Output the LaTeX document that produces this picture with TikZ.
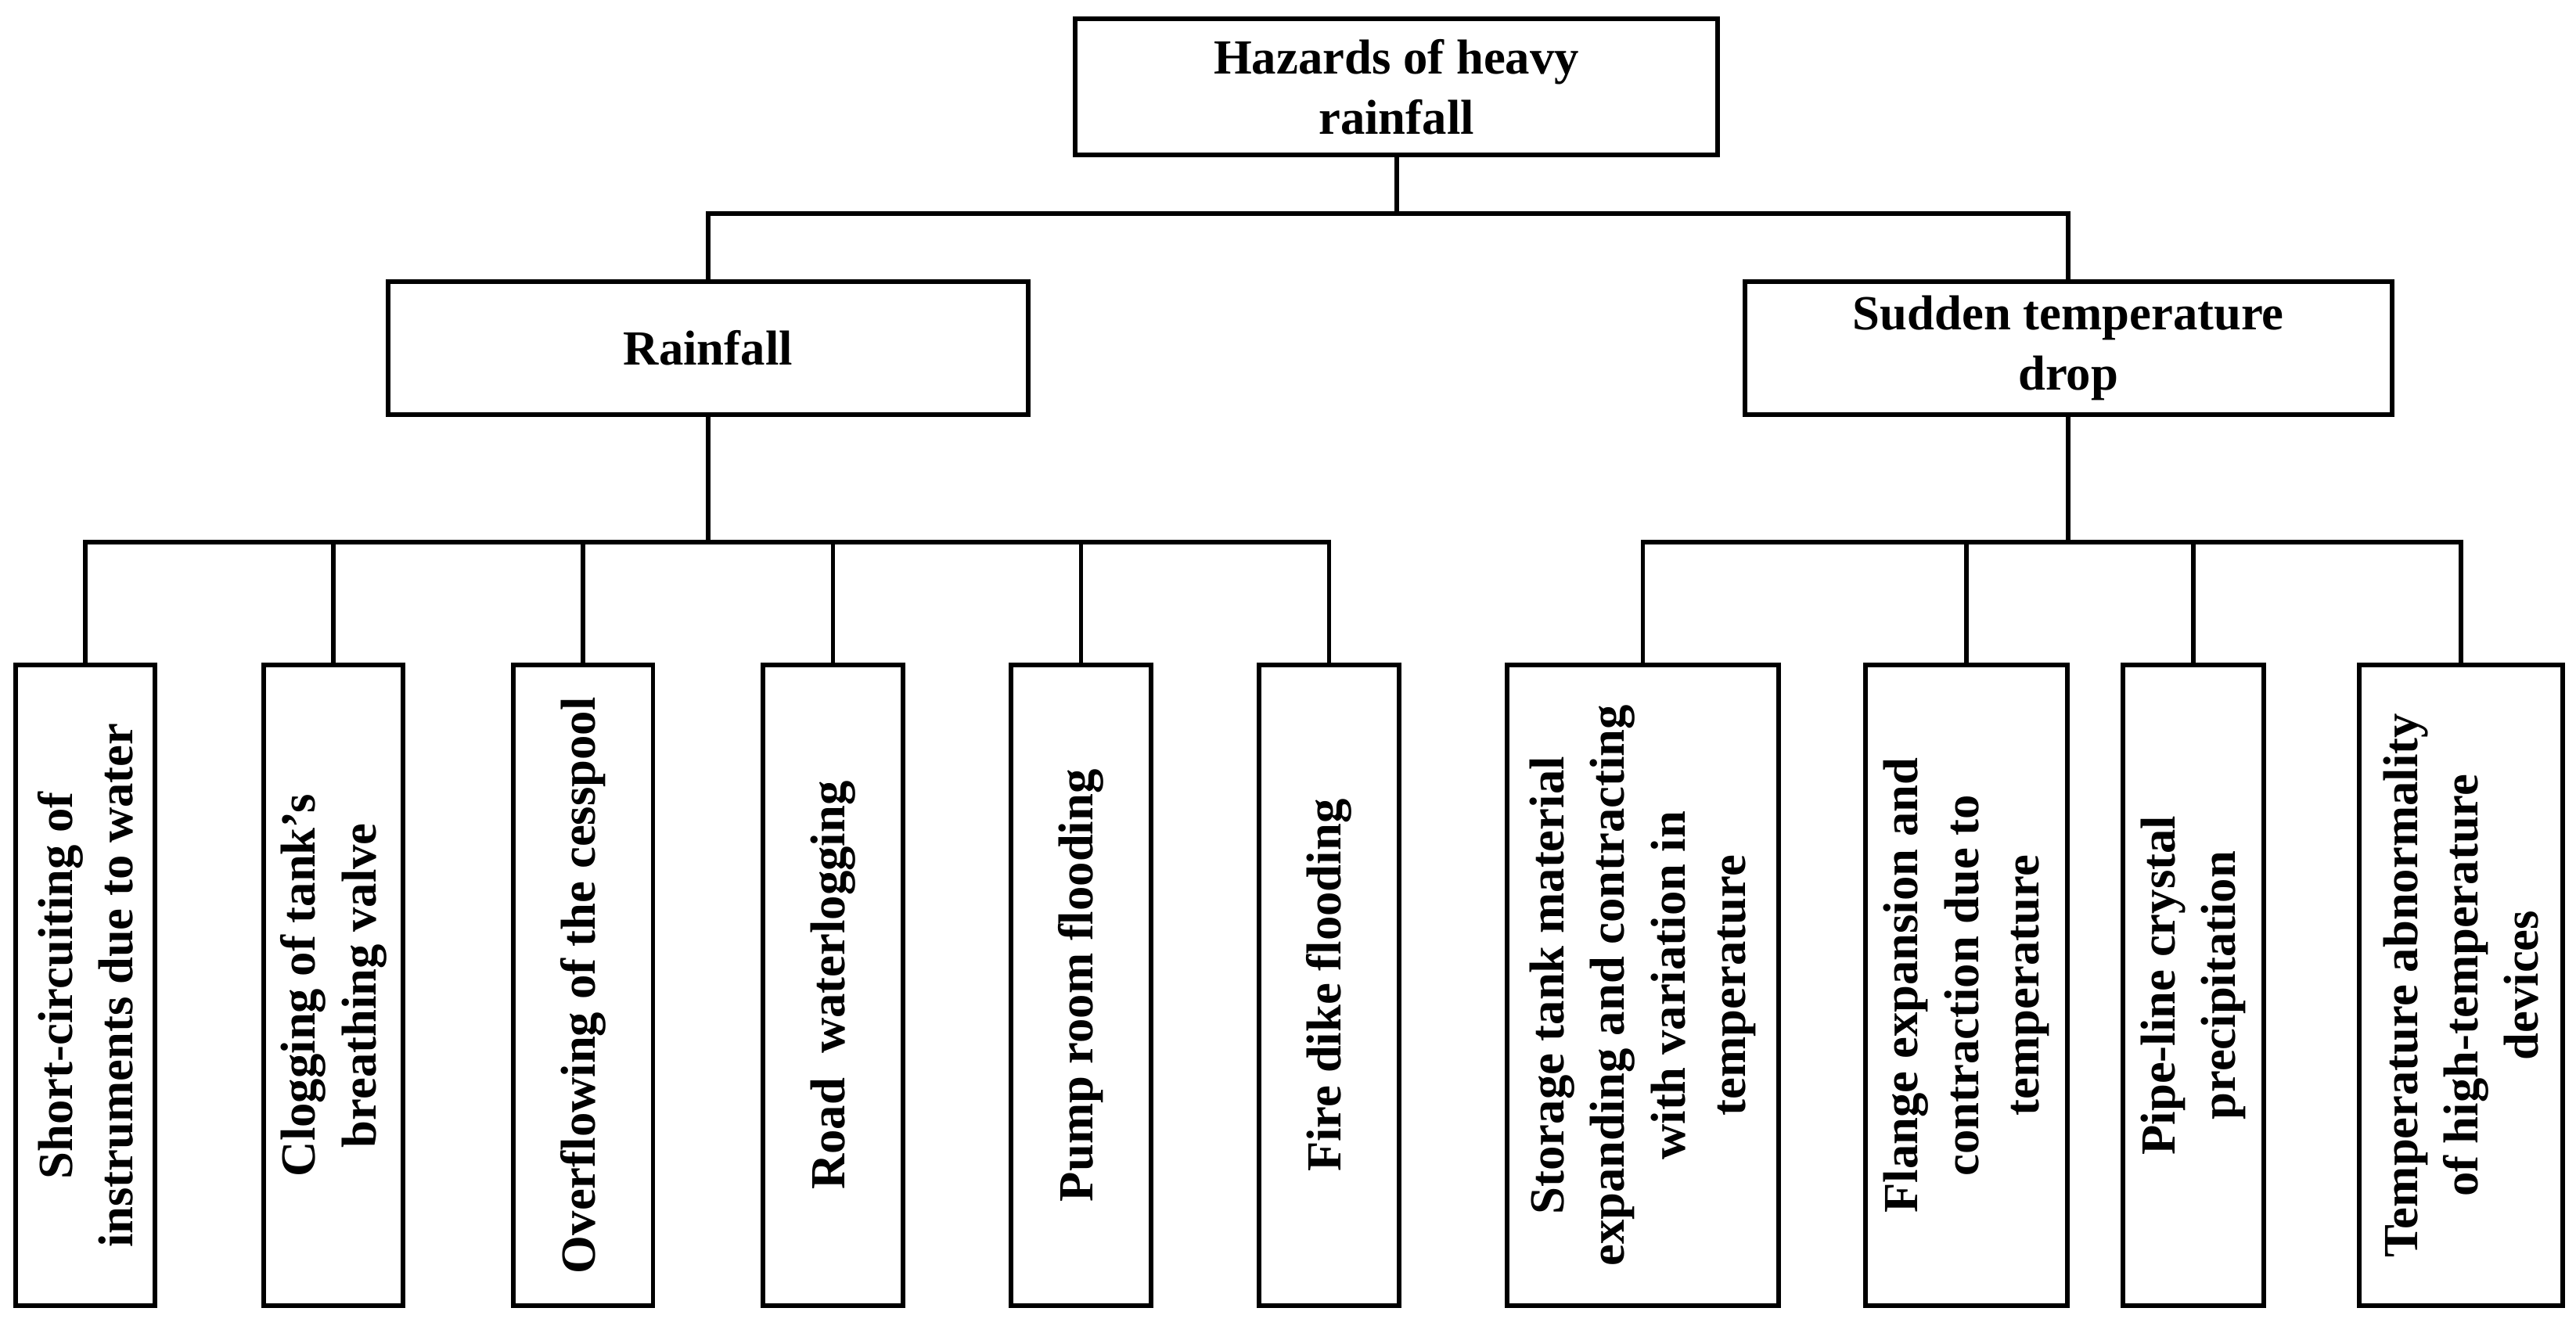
\documentclass[tikz,border=0pt]{standalone}
\usepackage{fontspec}
\setmainfont{Liberation Serif}
\begin{document}
\begin{tikzpicture}[x=0.02cm,y=-0.02cm,line width=1.6pt,
  font=\fontsize{17}{21}\selectfont\bfseries]
	\tikzset{box/.style={draw,align=center,inner sep=2pt},
	  leaf/.style={box,rotate=90,minimum width=7.8cm}}
	\useasboundingbox (0,0) rectangle (1568,807);
	% top level
	\node[box,minimum width=7.82cm,minimum height=1.66cm] (top) at (850,53) {Hazards of heavy\\rainfall};
	\node[box,minimum width=7.8cm,minimum height=1.62cm] (rain) at (431,212) {Rainfall};
	\node[box,minimum width=7.88cm,minimum height=1.62cm] (temp) at (1259,212) {Sudden temperature\\drop};
	\draw (top.south) -- (850,130) coordinate (t1);
	\draw (rain.north) |- (t1) -| (temp.north);
	% rainfall children
	\node[leaf,minimum height=1.7cm] (r1) at (52,600) {Short-circuiting of\\instruments due to water};
	\node[leaf,minimum height=1.7cm] (r2) at (203,600) {Clogging of tank's\\breathing valve};
	\node[leaf,minimum height=1.7cm] (r3) at (355,600) {Overflowing of the cesspool};
	\node[leaf,minimum height=1.7cm] (r4) at (507,600) {Road\ \ waterlogging};
	\node[leaf,minimum height=1.7cm] (r5) at (658,600) {Pump room flooding};
	\node[leaf,minimum height=1.7cm] (r6) at (809,600) {Fire dike flooding};
	\draw (rain.south) -- (431,330) coordinate (c1);
	\draw (r1.east) |- (c1) -| (r6.east);
	\foreach \n in {r2,r3,r4,r5} \draw (\n.east) -- (\n.east |- c1);
	% temperature children
	\node[leaf,minimum height=3.3cm] (s1) at (1000,600) {Storage tank material\\expanding and contracting\\with variation in\\temperature};
	\node[leaf,minimum height=2.46cm] (s2) at (1197,600) {Flange expansion and\\contraction due to\\temperature};
	\node[leaf,minimum height=1.72cm] (s3) at (1335,600) {Pipe-line crystal\\precipitation};
	\node[leaf,minimum height=2.48cm] (s4) at (1498,600) {Temperature abnormality\\of high-temperature\\devices};
	\draw (temp.south) -- (1259,330) coordinate (c2);
	\draw (s1.east) |- (c2) -| (s4.east);
	\foreach \n in {s2,s3} \draw (\n.east) -- (\n.east |- c2);
\end{tikzpicture}
\end{document}
